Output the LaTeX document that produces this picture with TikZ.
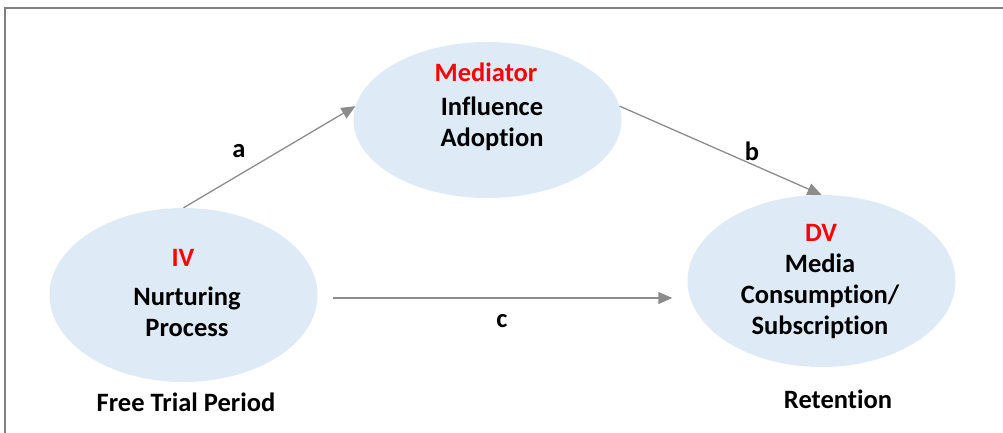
\documentclass[tikz,border=0pt]{standalone}
\usepackage{fontspec}
\setmainfont{Carlito}[Ligatures={NoCommon}]
\usetikzlibrary{arrows.meta,shapes.geometric}
\definecolor{fillblue}{RGB}{222,235,247}
\definecolor{framegray}{RGB}{128,128,128}
\definecolor{arrowgray}{RGB}{140,140,140}
\definecolor{titlered}{RGB}{255,0,0}
\tikzset{
  oval/.style={ellipse, fill=fillblue, draw=none, minimum width=268pt, inner sep=0pt},
  txt/.style={font=\fontsize{26.5}{31}\selectfont\bfseries, inner sep=0pt, align=center, text=black},
  ttl/.style={txt, text=titlered},
  conn/.style={draw=arrowgray, line width=1.3pt, -{Triangle[length=14pt,width=12pt]}},
}
\begin{document}
\begin{tikzpicture}[x=1pt,y=-1pt]
\useasboundingbox (0,0) rectangle (1003,433);
% frame
\draw[framegray, line width=2pt] (5,433) -- (5,8) -- (1004,8);
% ellipses
\node[oval, minimum height=174pt] (iv) at (183.5,295) {};
\node[oval, minimum height=156pt] (med) at (487.5,120) {};
\node[oval, minimum height=172pt] (dv) at (821.5,281) {};
% texts
\node[ttl] (ivt) at (183,258) {IV};
\node[txt] (ivb) at (187,312) {Nurturing\\Process};
\node[txt] (ivf) at (186,402) {Free Trial Period};
\node[ttl] (medt) at (486,72) {Mediator};
\node[txt] (medb) at (492,124) {Influence\\Adoption};
\node[ttl] (dvt) at (821,233) {DV};
\node[txt] (dvb) at (820,296) {Media\\Consumption/\\Subscription};
\node[txt] (dvr) at (838,399) {Retention};
% connectors
\draw[conn] (iv.north) -- (med.174);
\draw[conn] (med.6) -- (dv.north);
\draw[conn, shorten <=15pt, shorten >=15pt] (iv.east |- 0,298) -- (dv.west |- 0,298);
\node[txt] (la) at (239,151) {a};
\node[txt] (lb) at (752,151) {b};
\node[txt] (lc) at (502,321) {c};
\end{tikzpicture}
\end{document}
